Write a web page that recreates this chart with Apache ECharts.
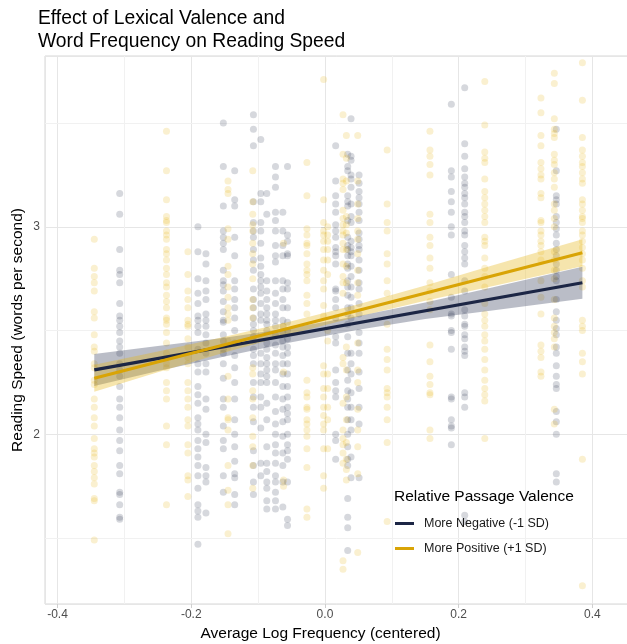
<!DOCTYPE html>
<html>
<head>
<meta charset="utf-8">
<script src="https://cdn.jsdelivr.net/npm/echarts@6/dist/echarts.min.js"></script>
<style>
  html, body { margin: 0; padding: 0; background: #fff; }
  #chart { width: 627px; height: 644px; }
</style>
</head>
<body>
<div id="chart"></div>
<script>
// word frequency columns (centered log freq) and reading speeds per column
var negFreq = [-0.307, -0.190, -0.178, -0.152, -0.135, -0.107, -0.096, -0.087, -0.074, -0.063, -0.056, 0.016, 0.034, 0.039, 0.051, 0.189, 0.209, 0.346];
var negSpeed = [
  [3.16, 3.06, 2.89, 2.79, 2.77, 2.73, 2.63, 2.57, 2.52, 2.55, 2.49, 2.45, 2.42, 2.39, 2.34, 2.31, 2.28, 2.23, 2.17, 2.13, 2.08, 2.02, 1.97, 1.92, 1.85, 1.81, 1.72, 1.71, 1.66, 1.60, 1.59],
  [3.00, 2.88, 2.75, 2.68, 2.63, 2.57, 2.52, 2.55, 2.49, 2.41, 2.34, 2.30, 2.23, 2.19, 2.15, 2.08, 2.05, 2.02, 1.97, 1.93, 1.89, 1.85, 1.80, 1.74, 1.66, 1.63, 1.60, 1.47],
  [2.87, 2.82, 2.74, 2.69, 2.65, 2.58, 2.55, 2.52, 2.48, 2.44, 2.39, 2.34, 2.30, 2.17, 2.12, 2.00, 1.96, 1.84, 1.80, 1.77, 1.62],
  [3.50, 3.29, 3.10, 2.98, 2.95, 2.92, 2.89, 2.79, 2.74, 2.72, 2.69, 2.64, 2.59, 2.54, 2.55, 2.48, 2.45, 2.41, 2.39, 2.34, 2.27, 2.17, 2.13, 2.04, 1.97, 1.93, 1.80, 1.72],
  [3.27, 3.13, 3.10, 2.95, 2.86, 2.74, 2.70, 2.65, 2.61, 2.56, 2.50, 2.44, 2.38, 2.32, 2.25, 2.17, 2.07, 2.00, 1.94, 1.87, 1.81, 1.79, 1.71, 1.66],
  [3.54, 3.47, 3.39, 3.12, 3.02, 2.98, 2.95, 2.89, 2.84, 2.79, 2.70, 2.65, 2.61, 2.56, 2.53, 2.50, 2.47, 2.45, 2.41, 2.38, 2.34, 2.25, 2.18, 2.13, 2.06, 1.92, 1.85, 1.77, 1.71],
  [3.42, 3.16, 3.12, 3.02, 2.98, 2.92, 2.85, 2.81, 2.77, 2.74, 2.71, 2.68, 2.63, 2.58, 2.55, 2.39, 2.34, 2.29, 2.25, 2.18, 2.13, 2.03, 1.86, 1.80],
  [3.16, 3.06, 2.74, 2.69, 2.65, 2.61, 2.58, 2.55, 2.53, 2.50, 2.44, 2.41, 2.37, 2.34, 2.31, 2.28, 2.25, 2.15, 2.07, 1.94, 1.86, 1.82, 1.77, 1.74, 1.68, 1.64],
  [3.29, 3.24, 3.19, 3.07, 3.03, 2.98, 2.91, 2.86, 2.83, 2.74, 2.68, 2.63, 2.58, 2.55, 2.52, 2.48, 2.43, 2.39, 2.34, 2.31, 2.25, 2.18, 2.11, 2.05, 2.00, 1.95, 1.91, 1.86, 1.80, 1.77, 1.72, 1.68, 1.64],
  [3.07, 2.98, 2.91, 2.86, 2.74, 2.70, 2.65, 2.61, 2.55, 2.52, 2.49, 2.45, 2.42, 2.38, 2.34, 2.29, 2.23, 2.17, 2.12, 2.06, 1.99, 1.91, 1.85, 1.77, 1.65],
  [3.29, 2.96, 2.93, 2.87, 2.86, 2.73, 2.70, 2.61, 2.54, 2.50, 2.46, 2.42, 2.39, 2.34, 2.29, 2.23, 2.18, 2.13, 2.10, 2.07, 2.00, 1.95, 1.92, 1.88, 1.77, 1.59, 1.56],
  [3.39, 3.22, 3.15, 3.11, 3.07, 3.01, 2.98, 2.95, 2.90, 2.88, 2.86, 2.82, 2.70, 2.69, 2.65, 2.61, 2.56, 2.47, 2.44, 2.31, 2.25, 2.21, 2.18, 2.00, 1.97, 1.88],
  [3.35, 3.29, 3.27, 3.15, 3.12, 3.10, 3.03, 2.95, 2.91, 2.89, 2.86, 2.82, 2.80, 2.74, 2.71, 2.67, 2.61, 2.58, 2.53, 2.47, 2.39, 2.31, 2.26, 2.21, 2.17, 2.13, 2.07, 2.00, 1.94, 1.88, 1.85, 1.69, 1.60, 1.55, 1.44],
  [3.52, 3.34, 3.32, 3.25, 3.23, 3.19, 3.11, 3.05, 3.02, 2.93, 2.90, 2.88, 2.86, 2.81, 2.76, 2.71, 2.66, 2.61, 2.56, 2.39, 2.34, 2.29, 2.20, 2.13, 2.07, 2.02, 1.89, 1.79],
  [3.25, 3.21, 3.17, 3.14, 3.11, 3.07, 3.03, 2.97, 2.94, 2.91, 2.89, 2.84, 2.79, 2.73, 2.70, 2.63, 2.58, 2.49, 2.44, 2.39, 2.30, 2.22, 2.13, 2.05, 1.79],
  [3.59, 3.27, 3.24, 3.17, 3.12, 3.07, 3.00, 2.96, 2.77, 2.66, 2.58, 2.57, 2.50, 2.49, 2.41, 2.18, 2.17, 2.07, 2.04, 2.03, 1.95],
  [3.67, 3.40, 3.34, 3.28, 3.24, 3.21, 3.19, 3.16, 3.14, 3.11, 3.07, 3.05, 3.02, 2.98, 2.96, 2.91, 2.88, 2.85, 2.82, 2.74, 2.69, 2.60, 2.57, 2.53, 2.52, 2.48, 2.46, 2.42, 2.40, 2.38, 2.20, 2.18, 2.13, 1.61, 1.58],
  [3.47, 3.27, 3.15, 3.13, 3.11, 3.05, 3.02, 2.99, 2.96, 2.92, 2.89, 2.86, 2.82, 2.79, 2.76, 2.74, 2.65, 2.59, 2.55, 2.51, 2.48, 2.42, 2.39, 2.33, 2.28, 2.24, 2.22, 2.11, 2.06, 2.00, 1.81, 1.77]
];

var posFreq = [-0.345, -0.237, -0.205, -0.145, -0.108, -0.062, -0.027, -0.002, 0.004, 0.027, 0.032, 0.049, 0.093, 0.157, 0.239, 0.323, 0.343, 0.385];
var posSpeed = [
  [2.94, 2.80, 2.76, 2.73, 2.69, 2.59, 2.56, 2.48, 2.42, 2.40, 2.34, 2.32, 2.26, 2.24, 2.17, 2.13, 2.08, 2.04, 1.98, 1.93, 1.91, 1.89, 1.85, 1.82, 1.79, 1.76, 1.69, 1.68, 1.49],
  [3.46, 3.27, 3.13, 3.05, 3.03, 3.02, 2.98, 2.96, 2.94, 2.89, 2.87, 2.84, 2.80, 2.77, 2.73, 2.71, 2.67, 2.64, 2.61, 2.56, 2.53, 2.55, 2.49, 2.44, 2.39, 2.34, 2.32, 2.25, 2.21, 2.17, 2.04, 1.95, 1.66],
  [2.88, 2.77, 2.69, 2.65, 2.61, 2.53, 2.55, 2.52, 2.46, 2.42, 2.37, 2.34, 2.25, 2.21, 2.17, 2.13, 2.07, 2.04, 1.95, 1.91, 1.80, 1.78, 1.70],
  [3.22, 3.18, 3.16, 2.99, 2.94, 2.81, 2.77, 2.71, 2.66, 2.61, 2.58, 2.55, 2.45, 2.42, 2.28, 2.17, 2.08, 2.07, 2.02, 1.85, 1.73, 1.66, 1.52],
  [3.27, 3.12, 3.06, 3.01, 2.98, 2.92, 2.87, 2.82, 2.75, 2.65, 2.61, 2.56, 2.32, 2.29, 2.21, 2.17, 2.08, 1.99, 1.94, 1.85, 1.74],
  [2.92, 2.52, 2.30, 1.78, 1.75],
  [3.31, 3.15, 2.99, 2.96, 2.92, 2.91, 2.87, 2.82, 2.79, 2.77, 2.74, 2.67, 2.63, 2.58, 2.26, 2.20, 2.18, 2.13, 2.12, 2.07, 2.05, 2.02, 1.99, 1.93, 1.84, 1.64, 1.60],
  [3.71, 3.13, 3.02, 2.98, 2.96, 2.93, 2.89, 2.84, 2.79, 2.74, 2.70, 2.62, 2.57, 2.33, 2.29, 2.22, 2.18, 2.13, 2.09, 2.05, 2.02, 1.93, 1.80, 1.74],
  [3.00, 2.96, 2.93, 2.89, 2.84, 2.77, 2.50, 2.45, 2.29, 2.22, 2.13, 2.07, 1.93],
  [3.54, 3.35, 3.23, 3.21, 3.18, 3.08, 3.04, 3.01, 2.98, 2.96, 2.92, 2.89, 2.82, 2.76, 2.73, 2.68, 2.37, 2.34, 2.15, 2.02, 1.98, 1.95, 1.91, 1.86, 1.39, 1.35],
  [3.44, 3.33, 3.22, 3.05, 3.01, 2.97, 2.89, 2.81, 2.73, 2.42, 2.31, 2.18, 2.07, 1.96, 1.88, 1.83, 1.78],
  [3.44, 3.22, 3.11, 3.04, 2.98, 2.94, 2.87, 2.79, 2.73, 2.67, 2.44, 2.31, 2.25, 2.12, 2.02, 1.94, 1.81, 1.43],
  [3.37, 3.11, 3.02, 2.98, 2.87, 2.82, 2.74, 2.68, 2.53, 2.41, 2.36, 2.31, 2.22, 2.20, 2.18, 2.13, 2.07, 1.96, 1.58],
  [3.46, 3.37, 3.34, 3.30, 3.25, 3.06, 3.02, 2.95, 2.91, 2.85, 2.80, 2.73, 2.69, 2.64, 2.60, 2.43, 2.35, 2.28, 2.24, 2.20, 2.19, 2.02, 1.98],
  [3.70, 3.49, 3.36, 3.33, 3.31, 3.23, 3.17, 3.14, 3.11, 3.08, 3.05, 3.02, 2.95, 2.93, 2.91, 2.85, 2.80, 2.76, 2.71, 2.63, 2.58, 2.55, 2.52, 2.48, 2.45, 2.41, 2.36, 2.31, 2.26, 2.22, 2.19, 2.16, 1.98],
  [3.62, 3.55, 3.44, 3.39, 3.31, 3.28, 3.25, 3.23, 3.16, 3.14, 3.03, 3.02, 2.98, 2.96, 2.93, 2.91, 2.88, 2.84, 2.74, 2.66, 2.58, 2.43, 2.40, 2.37, 2.30, 2.28],
  [3.74, 3.69, 3.52, 3.47, 3.45, 3.43, 3.35, 3.32, 3.30, 3.26, 3.23, 3.19, 3.11, 3.08, 3.04, 3.00, 2.88, 2.84, 2.79, 2.75, 2.65, 2.56, 2.52, 2.49, 2.46, 2.42, 2.12, 2.05],
  [3.79, 3.61, 3.43, 3.37, 3.34, 3.31, 3.29, 3.26, 3.23, 3.21, 3.13, 3.11, 3.08, 3.05, 3.04, 3.02, 2.98, 2.96, 2.93, 2.90, 2.87, 2.84, 2.80, 2.74, 2.71, 2.55, 2.52, 2.50, 2.39, 2.35, 2.29, 1.88, 1.27]
];

// fitted lines (ends) and confidence bands
var lineFreq = [-0.345, 0.385];
var negFit = [2.31, 2.73];
var posFit = [2.27, 2.875];
var bandFreq = [-0.345, -0.25, -0.15, -0.05, 0.05, 0.15, 0.25, 0.385];
var negLower = [2.233, 2.305, 2.375, 2.443, 2.504, 2.555, 2.597, 2.653];
var negUpper = [2.387, 2.425, 2.465, 2.513, 2.570, 2.635, 2.707, 2.807];
var posLower = [2.205, 2.299, 2.394, 2.485, 2.567, 2.643, 2.713, 2.810];
var posUpper = [2.335, 2.399, 2.470, 2.545, 2.627, 2.717, 2.813, 2.940];

var minorX = [-0.3, -0.1, 0.1, 0.3];
var minorY = [1.5, 2.5, 3.5];

var NAVY = '#1c2645';
var GOLD = '#d9a406';
var FONT = '"Liberation Sans", Arial, Helvetica, sans-serif';

function columnsToPoints(freqs, speeds) {
  var out = [];
  freqs.forEach(function (f, i) {
    speeds[i].forEach(function (s) { out.push([f, s]); });
  });
  return out;
}

function bandRender(lower, upper, fill) {
  return function (params, api) {
    var pts = [];
    for (var i = 0; i < bandFreq.length; i++) pts.push(api.coord([bandFreq[i], upper[i]]));
    for (var j = bandFreq.length - 1; j >= 0; j--) pts.push(api.coord([bandFreq[j], lower[j]]));
    return { type: 'polygon', shape: { points: pts }, style: { fill: fill } };
  };
}

var chart = echarts.init(document.getElementById('chart'));

var minorLines = minorX.map(function (v) { return { xAxis: v }; })
  .concat(minorY.map(function (v) { return { yAxis: v }; }));

var option = {
  animation: false,
  textStyle: { fontFamily: FONT },
  title: [
    {
      text: 'Effect of Lexical Valence and\nWord Frequency on Reading Speed',
      left: 33, top: 2,
      textStyle: { fontFamily: FONT, fontSize: 19.3, fontWeight: 'normal', color: '#000', lineHeight: 23 }
    },
    {
      text: 'Relative Passage Valence',
      left: 389, top: 484,
      textStyle: { fontFamily: FONT, fontSize: 15.5, fontWeight: 'normal', color: '#000' }
    }
  ],
  legend: {
    data: ['More Negative (-1 SD)', 'More Positive (+1 SD)'],
    orient: 'vertical',
    left: 390, top: 512,
    icon: 'rect',
    itemWidth: 19, itemHeight: 3,
    itemGap: 12,
    textStyle: { fontFamily: FONT, fontSize: 12.5, color: '#1a1a1a', padding: [0, 0, 0, 5] }
  },
  grid: {
    left: 45, top: 56, right: -1, bottom: 40,
    outerBoundsMode: 'none',
    containLabel: false,
    show: true, borderColor: '#d6d6d6', borderWidth: 1
  },
  xAxis: {
    type: 'value',
    min: -0.4187, max: 0.4532,
    splitNumber: 5,
    name: 'Average Log Frequency (centered)',
    nameLocation: 'middle', nameGap: 21,
    nameTextStyle: { fontFamily: FONT, fontSize: 15.5, color: '#000', padding: [0, 32, 0, 0] },
    axisLine: { show: false },
    axisTick: { show: true, length: 4, lineStyle: { color: '#cfcfcf' } },
    axisLabel: {
      showMinLabel: false, showMaxLabel: false,
      fontSize: 12, color: '#4d4d4d', margin: 5,
      formatter: function (v) { return v.toFixed(1); }
    },
    splitLine: { show: true, lineStyle: { color: '#e6e6e6', width: 1 } }
  },
  yAxis: {
    type: 'value',
    min: 1.182, max: 3.823,
    splitNumber: 3,
    name: 'Reading Speed (words per second)',
    nameLocation: 'middle', nameGap: 19,
    nameMoveOverlap: false,
    nameTextStyle: { fontFamily: FONT, fontSize: 15.5, color: '#000' },
    axisLine: { show: false },
    axisTick: { show: true, length: 4, lineStyle: { color: '#cfcfcf' } },
    axisLabel: {
      showMinLabel: false, showMaxLabel: false,
      fontSize: 12, color: '#4d4d4d', margin: 5
    },
    splitLine: { show: true, lineStyle: { color: '#e6e6e6', width: 1 } }
  },
  series: [
    {
      name: 'neg points',
      type: 'scatter',
      data: columnsToPoints(negFreq, negSpeed),
      symbolSize: 7,
      itemStyle: { color: NAVY, opacity: 0.18 },
      silent: true,
      z: 2,
      markLine: {
        silent: true, symbol: 'none', label: { show: false },
        z: 1,
        lineStyle: { color: '#f1f1f1', width: 1, type: 'solid' },
        data: minorLines
      }
    },
    {
      name: 'pos points',
      type: 'scatter',
      data: columnsToPoints(posFreq, posSpeed),
      symbolSize: 7,
      itemStyle: { color: '#e5b512', opacity: 0.2 },
      silent: true,
      z: 2
    },
    {
      name: 'neg band',
      type: 'custom',
      data: [[bandFreq[0], negLower[0]]],
      renderItem: bandRender(negLower, negUpper, 'rgba(28,38,69,0.3)'),
      silent: true, z: 3
    },
    {
      name: 'pos band',
      type: 'custom',
      data: [[bandFreq[0], posLower[0]]],
      renderItem: bandRender(posLower, posUpper, 'rgba(230,180,20,0.35)'),
      silent: true, z: 3
    },
    {
      name: 'More Negative (-1 SD)',
      type: 'line',
      data: lineFreq.map(function (f, i) { return [f, negFit[i]]; }),
      showSymbol: false,
      color: NAVY,
      lineStyle: { color: NAVY, width: 3.2 },
      z: 4
    },
    {
      name: 'More Positive (+1 SD)',
      type: 'line',
      data: lineFreq.map(function (f, i) { return [f, posFit[i]]; }),
      showSymbol: false,
      color: GOLD,
      lineStyle: { color: GOLD, width: 3.2 },
      z: 4
    }
  ]
};

chart.setOption(option);
</script>
</body>
</html>
